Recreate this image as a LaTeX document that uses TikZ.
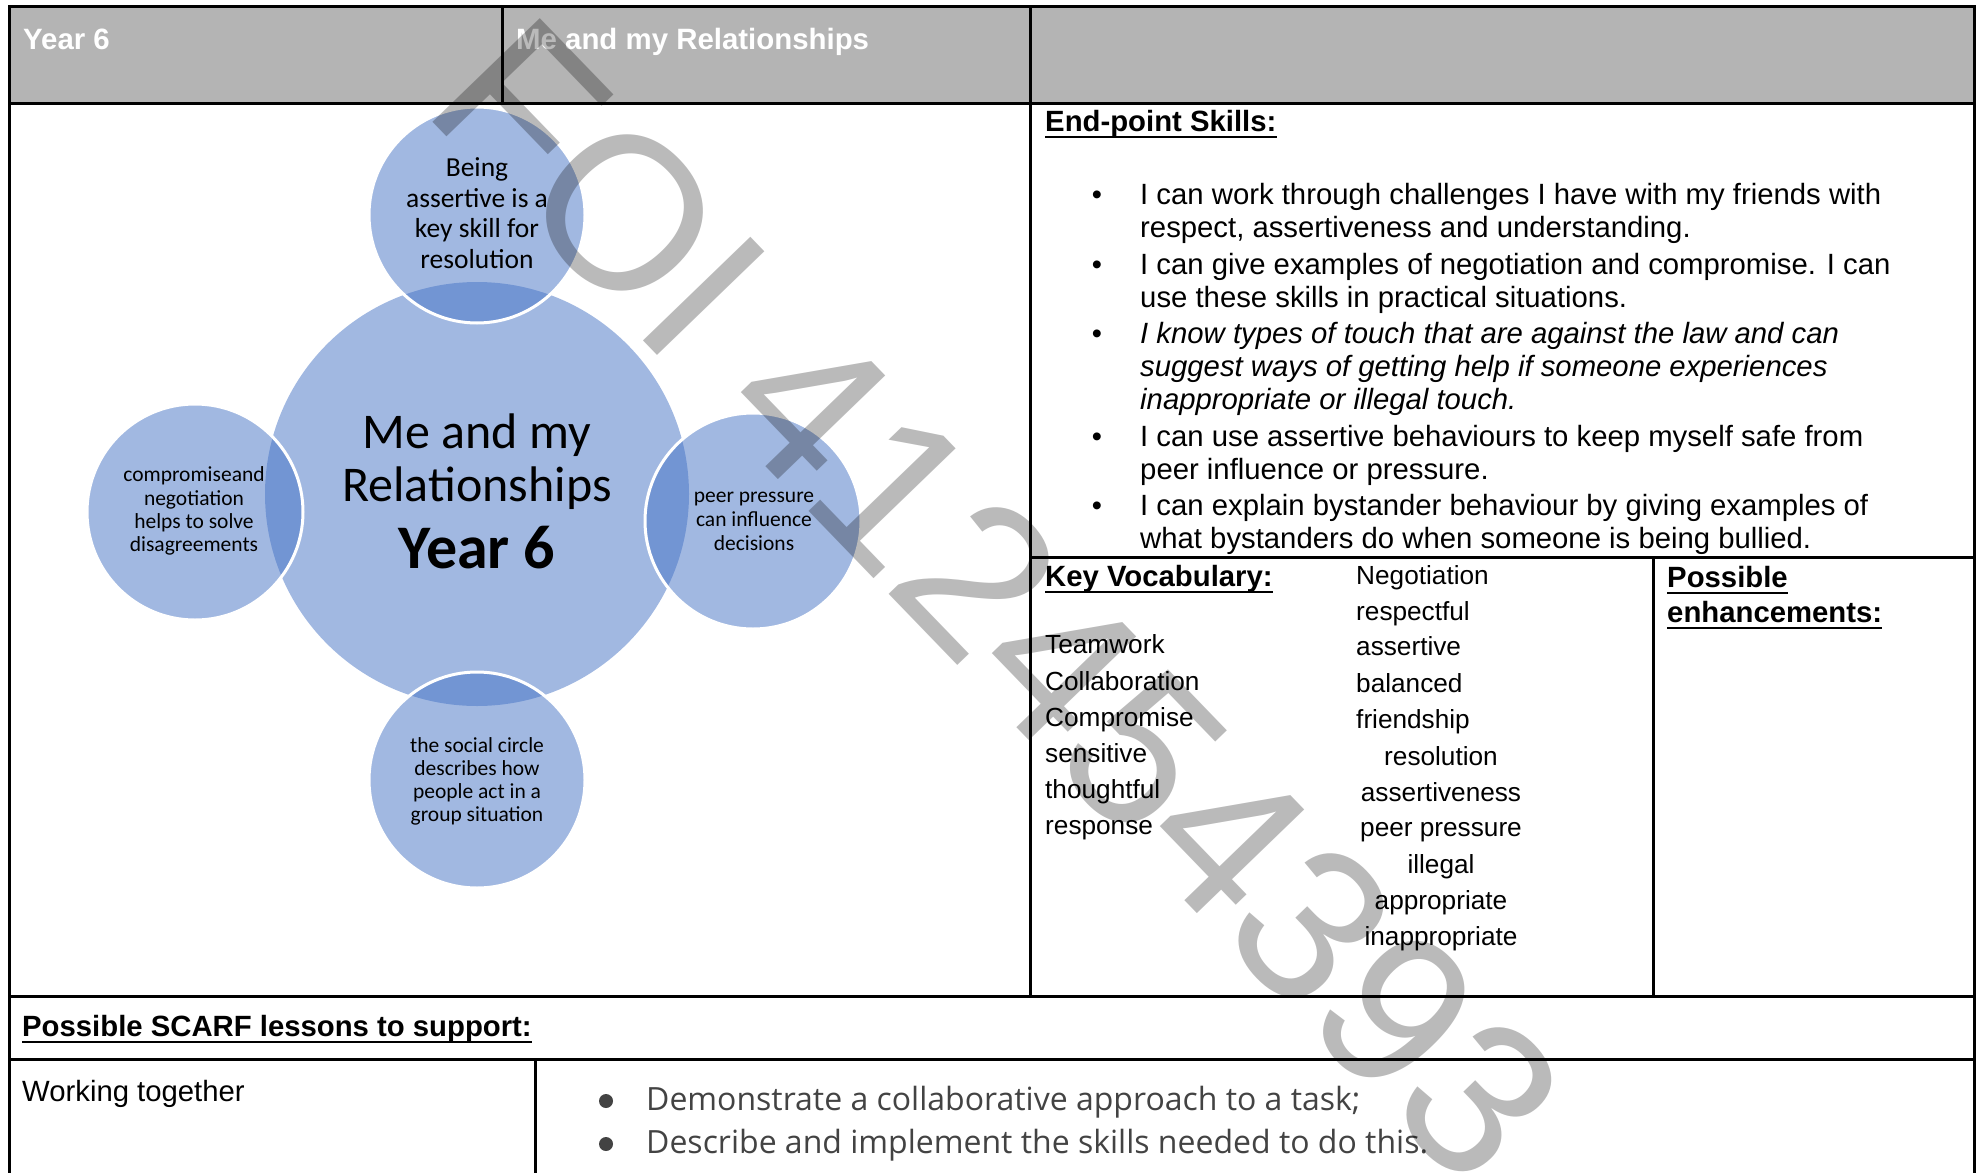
\documentclass[tikz,border=0pt]{standalone}
\usepackage{fontspec}
\setmainfont{Liberation Sans}
\newfontfamily\calfont{Carlito}
\newfontfamily\opfont{Open Sans}
\newcommand\fsz[1]{\fontsize{#1}{#1}\selectfont}
\definecolor{hdrgray}{RGB}{180,180,180}
\definecolor{cblue}{RGB}{68,114,196}
\definecolor{bodygray}{RGB}{67,67,67}
\newcommand\ulnode[1]{\draw[ul] ([yshift=-6pt]#1.base west) -- ([yshift=-6pt]#1.base east);}
\begin{document}
\begin{tikzpicture}[x=1pt,y=-1pt,
  rule/.style={line width=3pt,line cap=rect},
  ul/.style={line width=2.4pt},
  txt/.style={inner sep=0pt,anchor=base west},
  ctxt/.style={inner sep=0pt,anchor=base},
  bubble/.style={circle,inner sep=0pt,fill=cblue,fill opacity=0.5},
  ring/.style={draw=white,line width=3pt},
  hd/.style={txt,font=\bfseries\fsz{29.4},text=white},
  head/.style={txt,font=\bfseries\fsz{29.3}},
  body/.style={txt,font=\fsz{29.3}},
  voc/.style={txt,font=\fsz{26.2}},
  vocc/.style={ctxt,font=\fsz{26.2}},
  small/.style={ctxt,font=\calfont\fsz{21.5}},
  wm/.style={inner sep=0pt,font=\fsz{217},text=black,text opacity=0.27}]
\useasboundingbox (0,0) rectangle (1977,1172);
% header band
\fill[hdrgray] (9,7) rectangle (1974,103);
\node[hd] (h1) at (23,49) {Year 6};
\node[hd] (h2) at (516,50) {Me and my Relationships};
% circles
\node[bubble,minimum size=424] (hub) at (477,494) {};
\node[bubble,ring,minimum size=216] (ctop) at (477,215) {};
\node[bubble,ring,minimum size=216] (cleft) at (195,512) {};
\node[bubble,ring,minimum size=216] (cright) at (753,521) {};
\node[bubble,ring,minimum size=216] (cbot) at (477,780) {};
% circle texts
\node[ctxt,font=\calfont\fsz{50}] (hubA) at (477,448) {Me and my};
\node[ctxt,font=\calfont\fsz{50}] (hubB) at (477,501) {Relationships};
\node[ctxt,font=\calfont\bfseries\fsz{62}] (hubC) at (477,568) {Year 6};
\node[ctxt,font=\calfont\fsz{27.5}] (topA) at (477,176) {Being};
\node[ctxt,font=\calfont\fsz{27.5}] (topB) at (477,207) {assertive is a};
\node[ctxt,font=\calfont\fsz{27.5}] (topC) at (477,237) {key skill for};
\node[ctxt,font=\calfont\fsz{27.5}] (topD) at (477,268) {resolution};
\node[small] (lA) at (194,481) {compromiseand};
\node[small] (lB) at (194,505) {negotiation};
\node[small] (lC) at (194,528) {helps to solve};
\node[small] (lD) at (194,551) {disagreements};
\node[small] (rA) at (754,502) {peer pressure};
\node[small] (rB) at (754,526) {can influence};
\node[small] (rC) at (754,550) {decisions};
\node[small] (bA) at (477,752) {the social circle};
\node[small] (bB) at (477,775) {describes how};
\node[small] (bC) at (477,798) {people act in a};
\node[small] (bD) at (477,821) {group situation};
% end-point skills
\node[head] (eph) at (1045,131) {End-point Skills:};
\ulnode{eph}
\foreach \y [count=\i] in {204,274,343,446,515}
  \node[ctxt,font=\fsz{29}] (epb\i) at (1097,\y) {•};
\foreach \y/\t [count=\i] in {
  204/{I can work through challenges I have with my friends with},
  237/{respect, assertiveness and understanding.},
  274/{I can give examples of negotiation and compromise. I can},
  307/{use these skills in practical situations.},
  343/{\itshape I know types of touch that are against the law and can},
  376/{\itshape suggest ways of getting help if someone experiences},
  409/{\itshape inappropriate or illegal touch.},
  446/{I can use assertive behaviours to keep myself safe from},
  479/{peer influence or pressure.},
  515/{I can explain bystander behaviour by giving examples of},
  548/{what bystanders do when someone is being bullied.}}
  \node[body] (ep\i) at (1140,\y) {\t};
% key vocabulary
\node[head] (kvh) at (1045,586) {Key Vocabulary:};
\ulnode{kvh}
\foreach \y/\t [count=\i] in {653/Teamwork,690/Collaboration,726/Compromise,762/sensitive,798/thoughtful,834/response}
  \node[voc] (kl\i) at (1045,\y) {\t};
\foreach \y/\t [count=\i] in {584/Negotiation,620/respectful,655/assertive,692/balanced,728/friendship}
  \node[voc] (kr\i) at (1356,\y) {\t};
\foreach \y/\t [count=\i] in {765/resolution,801/assertiveness,836/peer pressure,873/illegal,909/appropriate,945/inappropriate}
  \node[vocc] (kc\i) at (1441,\y) {\t};
% possible enhancements
\node[head] (peA) at (1667,587) {Possible};
\ulnode{peA}
\node[head] (peB) at (1667,622) {enhancements:};
\ulnode{peB}
% SCARF
\node[head] (sc) at (22,1036) {Possible SCARF lessons to support:};
\ulnode{sc}
\node[body] (wt) at (22,1101) {Working together};
\node[circle,fill=bodygray,inner sep=0pt,minimum size=14] (bb1) at (606,1101) {};
\node[circle,fill=bodygray,inner sep=0pt,minimum size=14] (bb2) at (606,1144) {};
\node[txt,font=\opfont\fsz{32},text=bodygray] (d1) at (646,1110) {Demonstrate a collaborative approach to a task;};
\node[txt,font=\opfont\fsz{32},text=bodygray] (d2) at (646,1153) {Describe and implement the skills needed to do this.};
% table rules
\draw[rule] (9,7) -- (1974,7);
\draw[rule] (9,7) -- (9,1172);
\draw[rule] (1974,7) -- (1974,1172);
\draw[rule] (9,103) -- (1974,103);
\draw[rule] (502,7) -- (502,103);
\draw[rule] (1030,7) -- (1030,996);
\draw[rule] (1030,557) -- (1974,557);
\draw[rule] (1653,557) -- (1653,996);
\draw[rule] (9,996) -- (1974,996);
\draw[rule] (9,1059) -- (1974,1059);
\draw[rule] (535,1059) -- (535,1172);
% watermark
\node[wm,rotate=-46] (wmk) at (998,600) {FOI 412454393};
\end{tikzpicture}
\end{document}
